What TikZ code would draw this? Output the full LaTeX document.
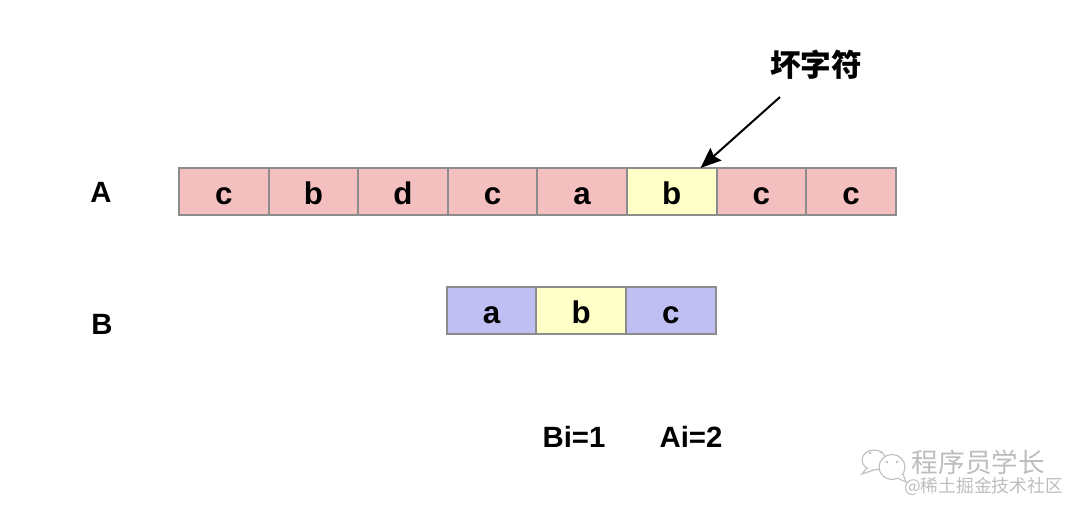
\documentclass[tikz,border=0pt]{standalone}
\usepackage{fontspec}
\setmainfont{Liberation Sans}
\newfontfamily\cjk{Noto Sans CJK SC}
\usepackage{xcolor}
\usetikzlibrary{arrows.meta,positioning,calc}
\definecolor{CELLpink}{HTML}{F4BFBF}
\definecolor{CELLblue}{HTML}{BFBFF4}
\definecolor{CELLyellow}{HTML}{FFFFC8}
\definecolor{CELLgray}{HTML}{8C8C8C}
\definecolor{MARKgray}{HTML}{BDBDBD}

\begin{document}
\begin{tikzpicture}[x=0.75pt, y=-0.75pt,
    cell/.style={rectangle, draw=CELLgray, fill=#1, line width=1.4pt,
                 minimum width=67.2pt, minimum height=35.25pt,
                 inner sep=0pt, outer sep=0pt,
                 text height=20pt, text depth=0pt,
                 font=\fontsize{23.5}{25}\selectfont\bfseries},
    tag/.style={font=\fontsize{22}{24}\selectfont\bfseries, inner sep=0pt},
    arr/.style={-{Stealth[length=15.5pt,width=12.5pt,inset=2pt]}, line width=1.5pt, black},
    bubble/.style={draw=MARKgray, fill=white, line width=0.8pt},
  ]
  \useasboundingbox (0,0) rectangle (1080,511);
  \node[cell=CELLpink]   (a1) at (223.8,191.5) {c};
  \node[cell=CELLpink, right=0pt of a1]   (a2) {b};
  \node[cell=CELLpink, right=0pt of a2]   (a3) {d};
  \node[cell=CELLpink, right=0pt of a3]   (a4) {c};
  \node[cell=CELLpink, right=0pt of a4]   (a5) {a};
  \node[cell=CELLyellow, right=0pt of a5] (a6) {b};
  \node[cell=CELLpink, right=0pt of a6]   (a7) {c};
  \node[cell=CELLpink, right=0pt of a7]   (a8) {c};
  \node[cell=CELLblue]   (b1) at (491.6,310.5) {a};
  \node[cell=CELLyellow, right=0pt of b1] (b2) {b};
  \node[cell=CELLblue, right=0pt of b2]   (b3) {c};
  \node[tag] (lblA) at (101,192) {A};
  \node[tag] (lblB) at (102,324) {B};
  \node[tag] (lblBi) at (574,437) {Bi=1};
  \node[tag] (lblAi) at (691,437) {Ai=2};
  \node[font=\cjk\fontsize{23}{25}\selectfont\bfseries, inner sep=0pt] (bad) at (816,65)
    {坏字符};
  \coordinate (badfrom) at (780,97);
  \draw[arr] (badfrom) -- ($(a6.north west)!0.82!(a6.north east)$);
  \draw[bubble] (874,460) ellipse (12 and 10);
  \draw[bubble] (867,468) -- (862,474) -- (874,470);
  \draw[bubble] (892,467) ellipse (13 and 12.5);
  \draw[bubble] (897,478) -- (906,482) -- (903,474);
  \fill[MARKgray] (870,453) circle (1.3) (881,452) circle (1.3)
                  (887,462) circle (1.3) (897,462) circle (1.3);
  \node[font=\cjk\fontsize{20}{22}\selectfont, MARKgray, inner sep=0pt] (markname) at (978.5,462)
    {程序员学长};
  \node[font=\cjk\fontsize{13.3}{15}\selectfont, MARKgray, inner sep=0pt] (marksite) at (983.5,486)
    {@稀土掘金技术社区};
\end{tikzpicture}
\end{document}
